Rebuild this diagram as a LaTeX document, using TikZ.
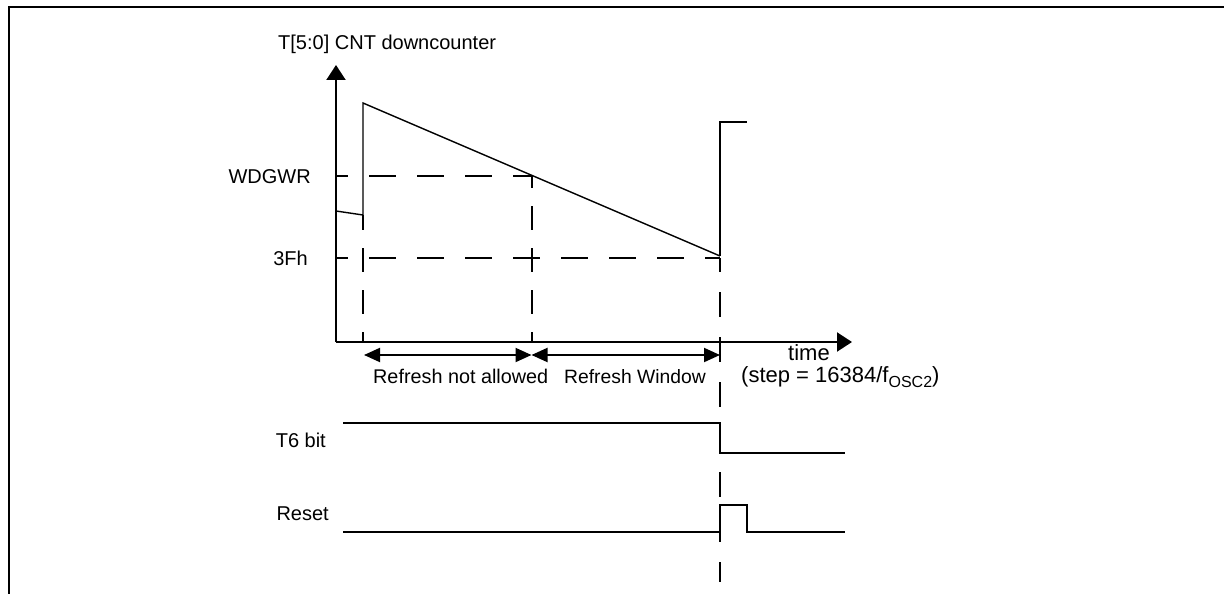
\documentclass[tikz,border=0pt]{standalone}
\usepackage{fontspec}
\setmainfont{Liberation Sans}
\usetikzlibrary{arrows.meta}
\begin{document}
\begin{tikzpicture}[x=1pt,y=-1pt,
  lbl/.style={inner sep=0pt,font=\fontsize{20}{24}\selectfont},
  sig/.style={line width=2pt},
  thin/.style={line width=1.4pt},
  hdsh/.style={line width=2pt,dash pattern=on 27pt off 21pt,dash phase=15pt},
  vdsh/.style={line width=2pt,dash pattern=on 24pt off 18pt},
  axis/.style={line width=2pt,-{Triangle[length=15pt,width=19pt]}},
  span/.style={line width=2pt,{Triangle[length=16pt,width=14pt]}-{Triangle[length=16pt,width=14pt]}}]
\useasboundingbox (0,0) rectangle (1224,594);
% frame
\draw[line width=2.8pt] (9,594) -- (9,7) -- (1224,7);
% coordinates
\coordinate (O) at (336,342);
\coordinate (Ytop) at (336,65);
\coordinate (Xend) at (852,342);
\coordinate (a0) at (336,211);
\coordinate (a1) at (363,215);
\coordinate (a2) at (363,103);
\coordinate (m) at (531.5,176);
\coordinate (e) at (720,256);
\coordinate (r1) at (720,122);
\coordinate (r2) at (747,122);
\coordinate (w0) at (336,176);
\coordinate (f0) at (336,258);
\coordinate (f1) at (720,258);
\coordinate (b1) at (363,342);
\coordinate (b2) at (531.5,342);
\coordinate (b3) at (720,582);
% axes
\draw[axis] (O) -- (Ytop);
\draw[axis] (O) -- (Xend);
% counter ramp
\draw[thin] (a0) -- (a1) -- (a2) -- (e);
\draw[sig] (e) -- (r1) -- (r2);
% dashed guides
\draw[hdsh] (w0) -- (m);
\draw[hdsh] (f0) -- (f1);
\draw[vdsh,dash phase=9pt] (a1) -- (b1);
\draw[vdsh,dash phase=12pt] (m) -- (b2);
\draw[line width=2pt,dash pattern=on 25pt off 20pt,dash phase=11pt] (f1) -- (b3);
% spans
\coordinate (s0) at (364,355);
\coordinate (s1) at (531.5,355);
\coordinate (s2) at (720,355);
\draw[span] (s0) -- (s1);
\draw[span] (s1) -- (s2);
% labels
\node[lbl,anchor=base west] (title) at (278,50) {T[5:0] CNT downcounter};
\node[lbl,anchor=base east] (wdg) at (311,183) {WDGWR};
\node[lbl,anchor=base east] (f3) at (308,265) {3Fh};
\node[lbl,anchor=base west,font=\fontsize{19.8}{23}\selectfont] (rna) at (373,383) {Refresh not allowed};
\node[lbl,anchor=base west,font=\fontsize{19.3}{23}\selectfont] (rw) at (564,383) {Refresh Window};
\node[lbl,anchor=base west,font=\fontsize{22}{26}\selectfont] (time) at (788,360) {time};
\node[lbl,anchor=base west,font=\fontsize{22}{26}\selectfont] (step) at (741,382) {(step = 16384/f\raisebox{-5pt}{\fontsize{16}{18}\selectfont OSC2})};
% T6 bit
\node[lbl,anchor=base east] (t6) at (326,447) {T6 bit};
\draw[sig] (343,423) -- (720,423) -- (720,453) -- (845,453);
% Reset
\node[lbl,anchor=base east] (rst) at (329,520) {Reset};
\draw[sig] (343,532) -- (720,532) -- (720,505) -- (747,505) -- (747,532) -- (845,532);
\end{tikzpicture}
\end{document}
